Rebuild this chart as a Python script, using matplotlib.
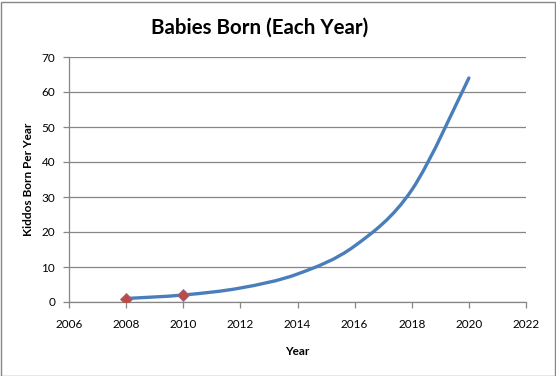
import matplotlib
matplotlib.use("Agg")
import matplotlib.pyplot as plt
from matplotlib.path import Path
from matplotlib.patches import PathPatch, Rectangle

# chart data
years = [2008, 2010, 2012, 2014, 2016, 2018, 2020]
babies = [1, 2, 4, 8, 16, 32, 64]
marked_years = [2008, 2010]
marked_babies = [1, 2]
x_ticks = [2006, 2008, 2010, 2012, 2014, 2016, 2018, 2020, 2022]
y_ticks = [0, 10, 20, 30, 40, 50, 60, 70]

plt.rcParams['font.family'] = ['Lato', 'DejaVu Sans']

fig = plt.figure(figsize=(5.56, 3.76), dpi=100)
ax = fig.add_axes([69/556, 74/376, 457/556, 245/376])

# smoothed line (Excel-style bezier through the data points)
verts = [(years[0], babies[0])]
codes = [Path.MOVETO]
n = len(years)
for i in range(n - 1):
    x0, y0 = (years[i-1], babies[i-1]) if i > 0 else (years[i], babies[i])
    x1, y1 = years[i], babies[i]
    x2, y2 = years[i+1], babies[i+1]
    x3, y3 = (years[i+2], babies[i+2]) if i + 2 < n else (x2, y2)
    c1 = (x1 + (x2 - x0) / 6, y1 + (y2 - y0) / 6)
    c2 = (x2 - (x3 - x1) / 6, y2 - (y3 - y1) / 6)
    verts += [c1, c2, (x2, y2)]
    codes += [Path.CURVE4] * 3
ax.add_patch(PathPatch(Path(verts, codes), facecolor='none', edgecolor='#4A7EBB',
                       lw=2.4, capstyle='round', joinstyle='round', zorder=3))

ax.plot(marked_years, marked_babies, linestyle='none', marker='D', ms=6.5,
        mfc='#BE4B48', mec='#8C6E8A', mew=0.6, zorder=4)

ax.set_xlim(2006, 2022)
ax.set_ylim(0, 70)
ax.set_xticks(x_ticks)
ax.set_yticks(y_ticks)
ax.grid(axis='y', color='#868686', lw=0.9)
ax.set_axisbelow(True)
for s in ['top', 'right']:
    ax.spines[s].set_visible(False)
for s in ['left', 'bottom']:
    ax.spines[s].set_color('#868686')
    ax.spines[s].set_linewidth(0.9)
ax.tick_params(direction='out', length=4, width=0.9, color='#868686',
               labelsize=8.5, pad=8)
ax.tick_params(axis='y', pad=6)

ax.set_xlabel('Year', fontsize=8.5, fontweight='bold', labelpad=12)
ax.set_ylabel('Kiddos Born Per Year', fontsize=8.5, fontweight='bold', labelpad=5)
fig.text(260/556, 1 - 28/376, 'Babies Born (Each Year)', ha='center', va='center',
         fontsize=14.8, fontweight='bold')

fig.patches.append(Rectangle((0.5/556, 0.5/376), 554/556, 374/376, transform=fig.transFigure,
                             fill=False, edgecolor='#868686', lw=1))

fig.savefig('out.png', dpi=100)
